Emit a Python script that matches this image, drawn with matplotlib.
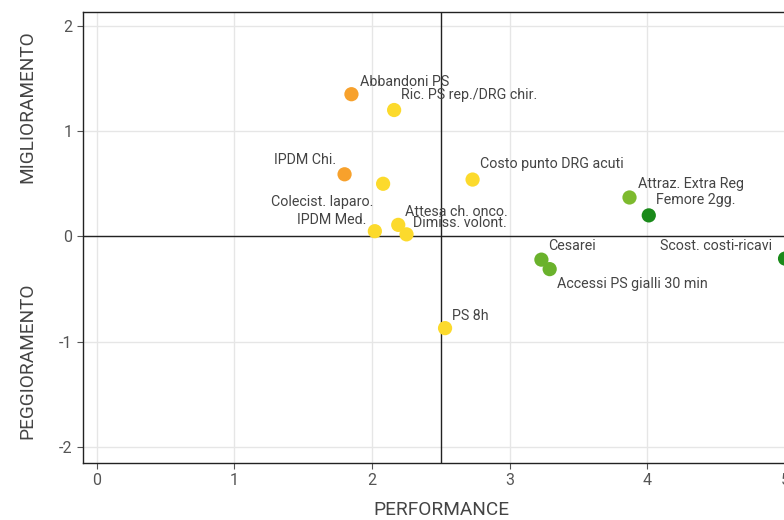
import matplotlib.pyplot as plt

# indicatori: performance (x) vs variazione (y)
labels = ['Abbandoni PS', 'Ric. PS rep./DRG chir.', 'IPDM Chi.', 'Colecist. laparo.',
          'Costo punto DRG acuti', 'Attraz. Extra Reg', 'Femore 2gg.', 'Attesa ch. onco.',
          'Dimiss. volont.', 'IPDM Med.', 'Cesarei', 'Accessi PS gialli 30 min',
          'Scost. costi-ricavi', 'PS 8h']
perf = [1.85, 2.16, 1.80, 2.08, 2.73, 3.87, 4.01, 2.19, 2.25, 2.02, 3.23, 3.29, 5.0, 2.53]
delta = [1.35, 1.20, 0.59, 0.50, 0.54, 0.37, 0.20, 0.11, 0.02, 0.05, -0.22, -0.31, -0.21, -0.87]
colors = ['#F7A12C', '#FCDA2C', '#F7A12C', '#FCDA2C', '#FCDA2C', '#7DBA2E', '#1A8A1A',
          '#FCDA2C', '#FCDA2C', '#FCDA2C', '#6AB22C', '#6AB22C', '#1A8A1A', '#FCDA2C']
# label offsets in points (dx, dy) and alignment
offsets = [(6, 4, 'left'), (5, 6, 'left'), (-6, 5, 'right'), (-7, -18, 'right'),
           (5, 6, 'left'), (6, 5, 'left'), (5, 6, 'left'), (5, 4, 'left'),
           (5, 3, 'left'), (-6, 3, 'right'), (5, 5, 'left'), (5, -16, 'left'),
           (-9, 4, 'right'), (5, 4, 'left')]

plt.rcParams['font.family'] = ['Roboto', 'DejaVu Sans']
fig = plt.figure(figsize=(7.84, 5.2), dpi=100)
ax = fig.add_axes([0.1059, 0.1096, 0.913, 0.8673])

ax.set_xlim(-0.1, 5.1)
ax.set_ylim(-2.15, 2.13)
ax.set_xticks(range(0, 6))
ax.set_yticks([-2, -1, 0, 1, 2])
ax.set_yticklabels(['-2', '-1', '0', '1', '2'])
ax.grid(True, color='#e6e6e6', linewidth=1)
ax.set_axisbelow(True)
ax.axvline(2.5, color='#222222', linewidth=1, zorder=2)
ax.axhline(0, color='#222222', linewidth=1, zorder=2)

ax.scatter(perf, delta, s=105, c=colors, zorder=3, linewidths=0, clip_on=True)
for i, lab in enumerate(labels):
    dx, dy, ha = offsets[i]
    ax.annotate(lab, (perf[i], delta[i]), xytext=(dx, dy), textcoords='offset points',
                ha=ha, va='bottom', fontsize=10.3, color='#444444', zorder=4)

for side in ['top', 'left', 'bottom', 'right']:
    ax.spines[side].set_color('#222222')
    ax.spines[side].set_linewidth(1)
ax.tick_params(colors='#555555', labelsize=11.5, length=4, labelcolor='#555555')

ax.set_xlabel('PERFORMANCE', fontsize=13.7, color='#444444', labelpad=9)
fig.text(0.035, 0.794, 'MIGLIORAMENTO', rotation=90, ha='center', va='center',
         fontsize=13.7, color='#444444')
fig.text(0.035, 0.306, 'PEGGIORAMENTO', rotation=90, ha='center', va='center',
         fontsize=13.7, color='#444444')

fig.savefig('out.png', dpi=100)
